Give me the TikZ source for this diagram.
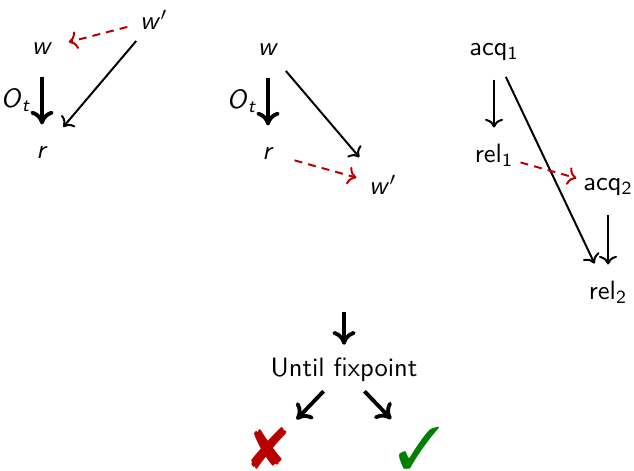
\documentclass[tikz,border=0pt]{standalone}
\usepackage{fontspec}
\usepackage{pifont}
\usetikzlibrary{arrows.meta}

\definecolor{relred}{rgb}{0.72,0,0}
\definecolor{okgreen}{rgb}{0,0.5,0}

\newcommand{\var}[1]{\textit{#1}}
\newcommand{\varp}[1]{\textit{#1}$'$}

\begin{document}
\begin{tikzpicture}[x=0.3774pt,y=-0.3774pt,
  font=\sffamily,
  >={Computer Modern Rightarrow},
  lbl/.style={circle,inner sep=0pt,minimum size=20.4pt},
  po/.style={->,line width=0.75pt},
  obs/.style={-{Computer Modern Rightarrow[length=5.2pt,width=8.8pt]},line width=1.45pt},
  rf/.style={->,line width=0.75pt,relred,dash pattern=on 3pt off 2.3pt},
  verdict/.style={inner sep=1pt,font=\fontsize{22}{22}\selectfont},
]
\useasboundingbox (0,0) rectangle (634,470);

% first pattern
\node[lbl] (w1)  at (42,49)  {\var{w}};
\node[lbl] (wp1) at (154,20) {\varp{w}};
\node[lbl] (r1)  at (42,152) {\var{r}};
\draw[obs] (w1) -- node[left] {\var{O}\textsubscript{\var{t}}} (r1);
\draw[po,shorten >=2pt] (wp1) -- (r1);
\draw[rf] (wp1) -- (w1);

% second pattern
\node[lbl] (w2)  at (268,50)  {\var{w}};
\node[lbl] (r2)  at (268,153) {\var{r}};
\node[lbl] (wp2) at (383,185) {\varp{w}};
\draw[obs] (w2) -- node[left] {\var{O}\textsubscript{\var{t}}} (r2);
\draw[po,shorten >=3.4pt] (w2) -- (wp2);
\draw[rf] (r2) -- (wp2);

% third pattern
\node[lbl] (acq1) at (494,52)  {acq\textsubscript{1}};
\node[lbl] (rel1) at (494,155) {rel\textsubscript{1}};
\node[lbl] (acq2) at (608,187) {acq\textsubscript{2}};
\node[lbl] (rel2) at (608,292) {rel\textsubscript{2}};
\draw[po] (acq1) -- (rel1);
\draw[po,shorten >=1.5pt] (acq1) -- (rel2);
\draw[po] (acq2) -- (rel2);
\draw[rf,shorten >=2pt] (rel1) -- (acq2);

% iteration and outcome
\coordinate (fromabove) at (344,312);
\node (fix) at (344,370) {Until fixpoint};
\node[verdict,text=relred]  (no)  at (269,448) {\ding{56}};
\node[verdict,text=okgreen] (yes) at (419,448) {\ding{51}};
\draw[obs,shorten >=1.5pt] (fromabove) -- (fix);
\draw[obs,shorten >=2.5pt] (fix) -- (no);
\draw[obs,shorten >=2.5pt] (fix) -- (yes);
\end{tikzpicture}
\end{document}
